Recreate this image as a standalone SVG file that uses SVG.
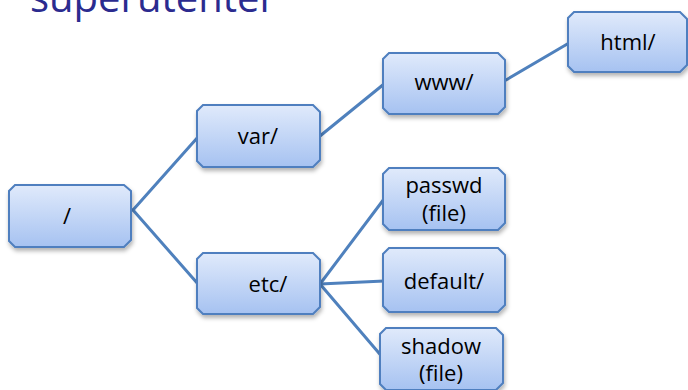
<svg xmlns="http://www.w3.org/2000/svg" width="688" height="390" viewBox="0 0 688 390">
<style>
.box{fill:url(#g);stroke:#4f7fbf;stroke-width:2;filter:url(#sh)}
.t{font-family:"Open Sans","Liberation Sans",sans-serif;font-size:22px;fill:#000;text-anchor:middle}
.c{stroke:#4f81bd;stroke-width:3;fill:none;stroke-linecap:round}
.title{font-family:"Open Sans","Liberation Sans",sans-serif;font-size:40px;fill:#2b2b8f}
</style>
<defs>
<linearGradient id="g" x1="0" y1="0" x2="0" y2="1">
<stop offset="0" stop-color="#e0eafb"/>
<stop offset="1" stop-color="#a6c2f1"/>
</linearGradient>
<filter id="sh" x="-10%" y="-10%" width="130%" height="140%">
<feDropShadow dx="1" dy="3" stdDeviation="2" flood-color="#000" flood-opacity="0.3"/>
</filter>
</defs>
<text class="title" x="30" y="12">superutenter</text>
<g id="connectors">
<line class="c" x1="133" y1="210" x2="198" y2="137"/>
<line class="c" x1="133" y1="210" x2="198" y2="284"/>
<line class="c" x1="320" y1="136" x2="384" y2="84"/>
<line class="c" x1="506" y1="80" x2="569" y2="43"/>
<line class="c" x1="320" y1="284" x2="384" y2="199"/>
<line class="c" x1="320" y1="284" x2="384" y2="281"/>
<line class="c" x1="320" y1="284" x2="384" y2="359"/>
</g>
<g id="root">
<path class="box" d="M15,185 H124 L131,191 V240 L124,247 H15 L9,241 V191 Z"/>
<text class="t" x="67" y="224">/</text>
</g>
<g id="var">
<path class="box" d="M203,105 H313 L320,112 V160 L313,167 H203 L197,161 V111 Z"/>
<text class="t" x="258" y="144">var/</text>
</g>
<g id="www">
<path class="box" d="M389,53 H498 L505,60 V107 L498,114 H389 L383,108 V59 Z"/>
<text class="t" x="444" y="90">www/</text>
</g>
<g id="html">
<path class="box" d="M574,12 H680 L687,19 V65 L680,72 H574 L568,66 V18 Z"/>
<text class="t" x="628" y="50">html/</text>
</g>
<g id="etc">
<path class="box" d="M203,253 H313 L320,260 V307 L313,314 H203 L197,308 V259 Z"/>
<text class="t" x="268" y="292">etc/</text>
</g>
<g id="passwd">
<path class="box" d="M389,168 H498 L505,175 V223 L498,230 H389 L383,224 V174 Z"/>
<text class="t" x="444" y="193">passwd</text>
<text class="t" x="444" y="221">(file)</text>
</g>
<g id="default">
<path class="box" d="M389,248 H498 L505,255 V305 L498,312 H389 L383,306 V254 Z"/>
<text class="t" x="444" y="289">default/</text>
</g>
<g id="shadow">
<path class="box" d="M386,328 H496 L503,335 V383 L496,390 H386 L380,384 V334 Z"/>
<text class="t" x="441" y="354">shadow</text>
<text class="t" x="441" y="381">(file)</text>
</g>
</svg>
